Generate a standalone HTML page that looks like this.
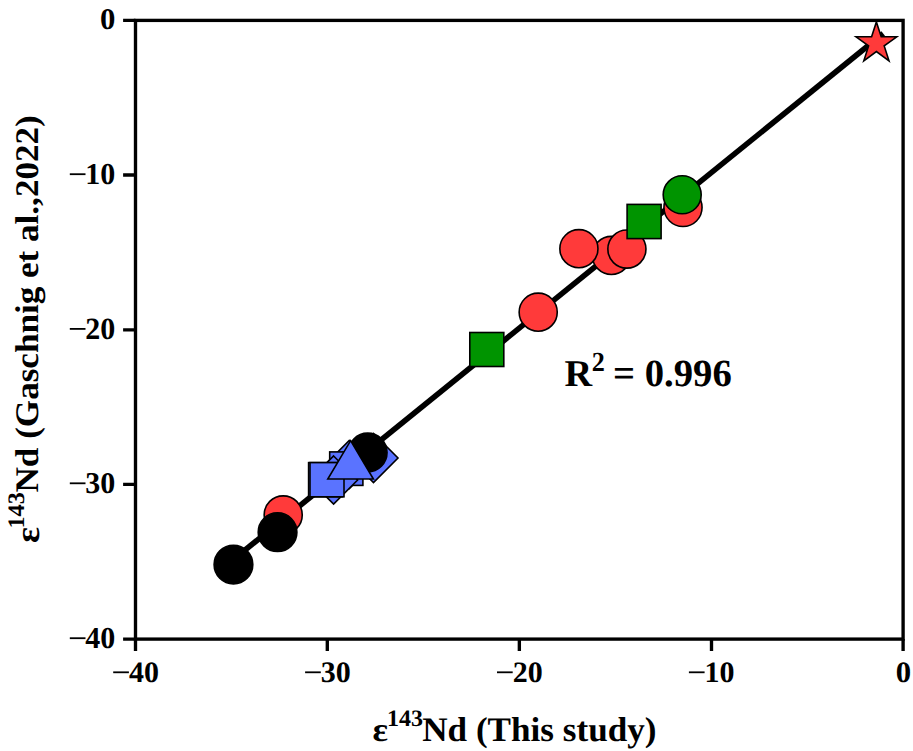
<!DOCTYPE html>
<html><head><meta charset="utf-8">
<style>
html,body{margin:0;padding:0;background:#fff;width:913px;height:751px;overflow:hidden}
svg{display:block}
text{font-family:"Liberation Serif",serif;font-weight:bold;fill:#000;text-rendering:geometricPrecision}
</style></head><body>
<svg width="913" height="751" viewBox="0 0 913 751">
<g stroke="#000" stroke-width="3.35" fill="none">
<rect x="135.5" y="20.4" width="767.6" height="618.7"/>
<path d="M123.1 20.4H135.5M123.1 175H135.5M123.1 329.9H135.5M123.1 484.35H135.5M123.1 639.1H135.5"/>
<path d="M135.5 639.1V650.9M327.3 639.1V650.9M519.35 639.1V650.9M711.5 639.1V650.9M903.1 639.1V650.9"/>
</g>
<line x1="225" y1="566.3" x2="883.2" y2="33.53" stroke="#000" stroke-width="5.6"/>
<g stroke="#000" stroke-width="1.6">
<circle cx="233.45" cy="564.55" r="19.35" fill="#000"/>
<circle cx="283.2" cy="514.9" r="19.05" fill="#FF3A3A"/>
<circle cx="277.55" cy="532.15" r="19.35" fill="#000"/>
<path d="M349.3 440.5L373.3 464.5L349.3 488.5L325.3 464.5Z" fill="#5A73FF"/>
<path d="M373.5 433.5L398 458L373.5 482.5L349 458Z" fill="#5A73FF"/>
<rect x="329.7" y="451.9" width="33.2" height="33.5" fill="#5A73FF"/>
<path d="M333.6 456L357.6 480L333.6 504L309.6 480Z" fill="#5A73FF"/>
<rect x="308.6" y="462.6" width="34.0" height="34.2" fill="#5A73FF"/>
<rect x="310.0" y="462.6" width="34.0" height="34.2" fill="#5A73FF"/>
<circle cx="367.7" cy="452.5" r="19.35" fill="#000"/>
<path d="M350.6 440.7L373.4 479H327.8Z" fill="#5A73FF"/>
<rect x="469.8" y="332.5" width="34.0" height="34.0" fill="#009400"/>
<circle cx="538.2" cy="312.2" r="19.05" fill="#FF3A3A"/>
<circle cx="611.4" cy="255.4" r="19.05" fill="#FF3A3A"/>
<circle cx="578.9" cy="248.7" r="19.05" fill="#FF3A3A"/>
<circle cx="626.9" cy="249.1" r="19.05" fill="#FF3A3A"/>
<rect x="627.1" y="204.4" width="34.0" height="34.2" fill="#009400"/>
<circle cx="683" cy="207.5" r="19.05" fill="#FF3A3A"/>
<circle cx="682.2" cy="194.8" r="19.0" fill="#009400"/>
<path d="M876.4 21.9L881.2 36.8L896.8 36.8L884.2 45.9L889.0 60.8L876.4 51.6L863.8 60.8L868.6 45.9L856.0 36.8L871.6 36.8Z" fill="#FF3A3A"/>
</g>
<text transform="translate(99.92,28.65) scale(1.0240,1.0074)" font-size="30">0</text>
<text transform="translate(85.35,183.65) scale(1.0000,1.0122)" font-size="30">10</text>
<text transform="translate(85.35,338.55) scale(1.0000,1.0274)" font-size="30">20</text>
<text transform="translate(85.35,492.50) scale(1.0000,1.0074)" font-size="30">30</text>
<text transform="translate(85.35,647.55) scale(1.0000,1.0122)" font-size="30">40</text>
<text transform="translate(128.95,681.55) scale(1.0000,0.9877)" font-size="30">40</text>
<text transform="translate(320.75,681.60) scale(1.0000,0.9926)" font-size="30">30</text>
<text transform="translate(512.65,681.55) scale(1.0000,0.9877)" font-size="30">20</text>
<text transform="translate(704.55,681.55) scale(1.0000,0.9877)" font-size="30">10</text>
<text transform="translate(895.82,681.65) scale(1.0240,0.9877)" font-size="30">0</text>
<text transform="translate(564.54,385.65) scale(1.0074,0.9994)" font-size="38">R</text>
<text transform="translate(591.71,370.65) scale(1.0900,1.1492)" font-size="24">2</text>
<text transform="translate(612.96,385.54) scale(1.0185,1.0136)" font-size="38">= 0.996</text>
<text transform="translate(372.43,740.70) scale(1.0667,0.9969)" font-size="34">&#949;</text>
<text transform="translate(386.89,725.53) scale(1.0918,1.0712)" font-size="22">143</text>
<text transform="translate(422.23,740.64) scale(1.0330,1.0146)" font-size="34">Nd (This study)</text>
<text transform="translate(38.70,543.10) rotate(-90) scale(1.0980,1.0031)" font-size="34">&#949;</text>
<text transform="translate(23.67,528.52) rotate(-90) scale(1.0984,1.0719)" font-size="22">143</text>
<text transform="translate(37.50,492.47) rotate(-90) scale(1.0321,0.9700)" font-size="34">Nd (Gaschnig et al.,2022)</text>
<g fill="#000">
<rect x="69.8" y="173.3" width="15.7" height="1.8"/>
<rect x="69.8" y="328.0" width="15.7" height="1.8"/>
<rect x="69.8" y="482.4" width="15.7" height="1.8"/>
<rect x="69.8" y="637.3" width="15.7" height="1.8"/>
<rect x="113.2" y="671.4" width="15.7" height="1.8"/>
<rect x="305.1" y="671.4" width="15.7" height="1.8"/>
<rect x="497.0" y="671.4" width="15.7" height="1.8"/>
<rect x="688.9" y="671.4" width="15.7" height="1.8"/>
</g>
</svg>
</body></html>
